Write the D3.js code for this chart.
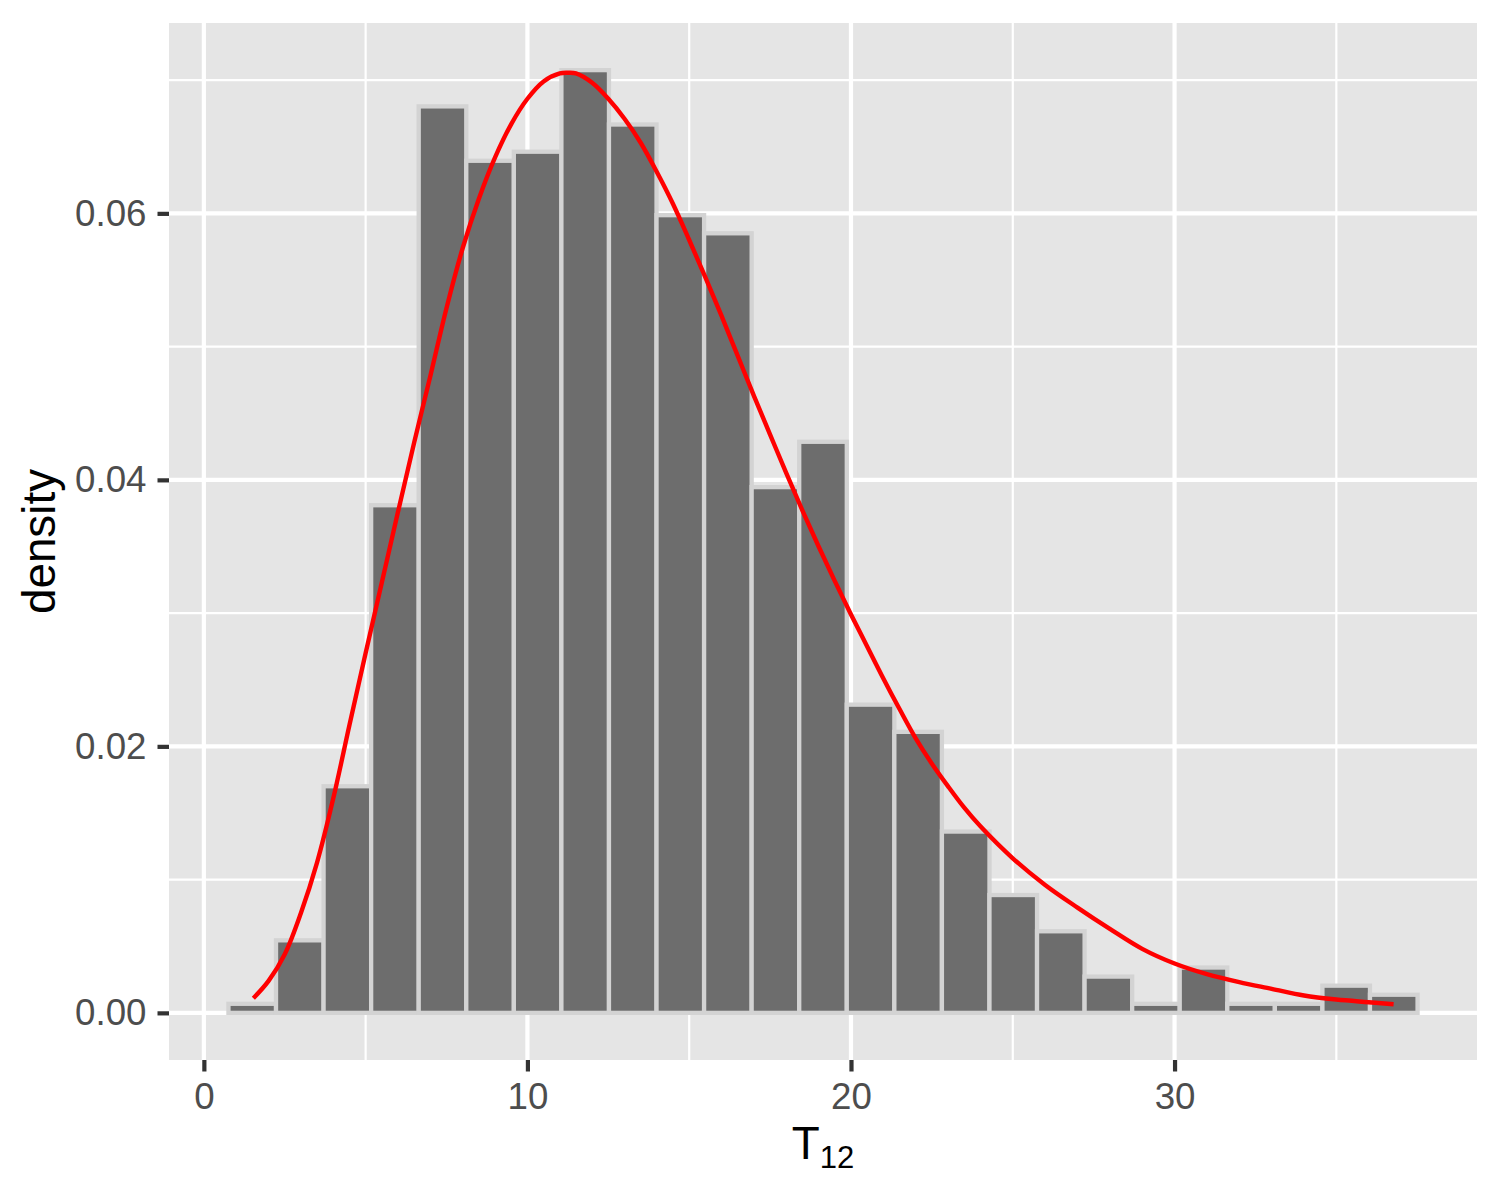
<!DOCTYPE html>
<html><head><meta charset="utf-8">
<script src="https://cdn.jsdelivr.net/npm/d3@7"></script>
<style>body{margin:0;background:#fff}</style>
</head><body><svg id="c" width="1500" height="1200"></svg>
<script>
// ---- data ----
const binStart = 0.76;
const binWidth = 1.47;
const counts = [1, 8, 25, 56, 100, 94, 95, 104, 98, 88, 86, 58, 63, 34, 31, 20, 13, 9, 4, 1, 5, 1, 1, 3, 2];
const totalN = 1000;
const curveX = [1.53, 2.0, 2.5, 3.0, 3.5, 4.0, 4.5, 5.0, 5.5, 6.0, 6.5, 7.0, 7.5, 8.0, 8.5, 9.0, 9.5, 10.0, 10.5, 11.0, 11.25, 11.5, 12.0, 12.5, 13.0, 13.5, 14.0, 14.5, 15.0, 15.5, 16.0, 16.5, 17.0, 17.5, 18.0, 18.5, 19.0, 19.5, 20.0, 20.5, 21.0, 21.5, 22.0, 22.5, 23.0, 23.5, 24.0, 25.0, 26.0, 27.0, 28.0, 29.0, 30.0, 31.0, 32.0, 33.0, 34.0, 35.0, 36.0, 36.77];
const curveY = [0.0011, 0.0024, 0.0044, 0.0075, 0.0113, 0.0161, 0.0216, 0.0270, 0.0323, 0.0376, 0.0428, 0.0478, 0.0529, 0.0574, 0.0611, 0.0642, 0.0667, 0.0686, 0.0699, 0.0705, 0.07055, 0.0705, 0.0698, 0.0686, 0.0671, 0.0653, 0.0631, 0.0607, 0.0580, 0.0552, 0.0523, 0.0493, 0.0463, 0.0434, 0.0405, 0.0377, 0.0350, 0.0324, 0.0299, 0.0275, 0.0251, 0.0228, 0.0206, 0.0187, 0.0170, 0.0154, 0.0140, 0.0116, 0.0096, 0.0079, 0.0063, 0.0048, 0.0037, 0.0029, 0.0023, 0.0018, 0.0013, 0.0010, 0.0008, 0.00065];
const xTicks = [0, 10, 20, 30];
const xMinor = [5, 15, 25, 35];
const yTicks = [0, 0.02, 0.04, 0.06];
const yMinor = [0.01, 0.03, 0.05, 0.07];
const xTitleMain = "T", xTitleSub = "12";
const yTitle = "density";

// ---- layout ----
const P = {l: 169, r: 1477, t: 23, b: 1060};
const FONT = "'Liberation Sans', Arial, Helvetica, sans-serif";
const svg = d3.select("#c");

const bins = counts.map((c, i) => ({x0: binStart + i * binWidth, x1: binStart + (i + 1) * binWidth, d: c / (totalN * binWidth)}));
const xlo = binStart, xhi = binStart + counts.length * binWidth;
const xpad = (xhi - xlo) * 0.05;
const x = d3.scaleLinear().domain([xlo - xpad, xhi + xpad]).range([P.l, P.r]);
const ymax = d3.max(bins, b => b.d);
const y = d3.scaleLinear().domain([-ymax * 0.05, ymax * 1.05]).range([P.b, P.t]);

// panel
svg.append("rect").attr("x", P.l).attr("y", P.t).attr("width", P.r - P.l).attr("height", P.b - P.t).attr("fill", "#E5E5E5");

const grid = svg.append("g");
grid.selectAll(".xm").data(xMinor).join("line").attr("x1", d => x(d)).attr("x2", d => x(d)).attr("y1", P.t).attr("y2", P.b).attr("stroke", "#fff").attr("stroke-width", 2.2);
grid.selectAll(".ym").data(yMinor).join("line").attr("y1", d => y(d)).attr("y2", d => y(d)).attr("x1", P.l).attr("x2", P.r).attr("stroke", "#fff").attr("stroke-width", 2.2);
grid.selectAll(".xM").data(xTicks).join("line").attr("x1", d => x(d)).attr("x2", d => x(d)).attr("y1", P.t).attr("y2", P.b).attr("stroke", "#fff").attr("stroke-width", 4.2);
grid.selectAll(".yM").data(yTicks).join("line").attr("y1", d => y(d)).attr("y2", d => y(d)).attr("x1", P.l).attr("x2", P.r).attr("stroke", "#fff").attr("stroke-width", 4.2);

// bars
svg.append("g").selectAll("rect").data(bins).join("rect")
  .attr("x", d => x(d.x0)).attr("width", d => x(d.x1) - x(d.x0))
  .attr("y", d => y(d.d)).attr("height", d => y(0) - y(d.d))
  .attr("fill", "#6D6D6D").attr("stroke", "#D3D3D3").attr("stroke-width", 4.3);

// density curve
const pts = curveX.map((v, i) => [v, curveY[i]]);
svg.append("path").datum(pts)
  .attr("d", d3.line().x(d => x(d[0])).y(d => y(d[1])).curve(d3.curveCatmullRom.alpha(0.5)))
  .attr("fill", "none").attr("stroke", "#FF0000").attr("stroke-width", 4.4);

// axes
function styleAxis(g) {
  g.select(".domain").remove();
  g.selectAll(".tick line").attr("stroke", "#333333").attr("stroke-width", 4.2);
  g.selectAll(".tick text").attr("fill", "#4D4D4D").style("font-family", FONT).style("font-size", "36.7px");
}
svg.append("g").attr("transform", `translate(${P.l},0)`)
  .call(d3.axisLeft(y).tickValues(yTicks).tickFormat(d3.format(".2f")).tickSize(11.5).tickPadding(11))
  .call(styleAxis);
svg.append("g").attr("transform", `translate(0,${P.b})`)
  .call(d3.axisBottom(x).tickValues(xTicks).tickFormat(d3.format("d")).tickSize(11.5).tickPadding(11))
  .call(styleAxis);

// titles
const xt = svg.append("text").attr("x", (P.l + P.r) / 2).attr("y", 1159).attr("text-anchor", "middle")
  .style("font-family", FONT).style("font-size", "45.8px").attr("fill", "#000");
xt.append("tspan").text(xTitleMain);
xt.append("tspan").attr("dy", 9).style("font-size", "31px").text(xTitleSub);

svg.append("text").attr("transform", `translate(55,${(P.t + P.b) / 2}) rotate(-90)`).attr("text-anchor", "middle")
  .style("font-family", FONT).style("font-size", "45.8px").attr("fill", "#000").text(yTitle);
</script></body></html>
